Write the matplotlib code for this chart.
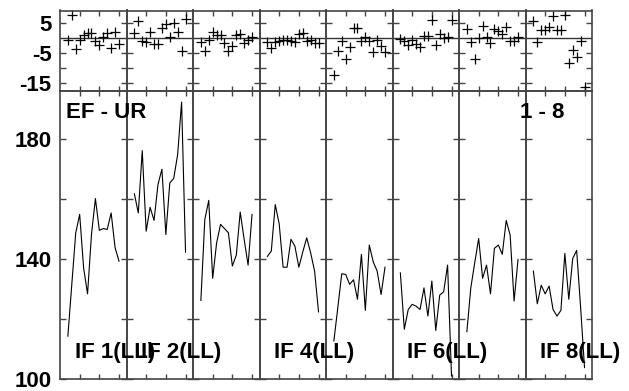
import matplotlib.pyplot as plt
from matplotlib.gridspec import GridSpec

# channels 2..15 in every IF
chans = [2, 3, 4, 5, 6, 7, 8, 9, 10, 11, 12, 13, 14, 15]

amp_if1 = [114.3, 131.6, 148.8, 154.9, 137.1, 128.4, 148.2, 160.2, 149.6, 150.2, 149.9, 155.4, 143.8, 139.3]
amp_if2 = [161.8, 155.4, 176.2, 149.3, 157.3, 152.9, 164.9, 170.0, 148.2, 165.4, 166.9, 174.9, 192.4, 142.3]
amp_if3 = [126.2, 153.2, 159.6, 133.6, 145.4, 151.6, 150.2, 148.8, 137.7, 141.3, 155.7, 146.6, 138.0, 154.9]
amp_if4 = [140.9, 142.7, 158.2, 151.8, 137.3, 137.3, 146.6, 144.3, 137.3, 142.4, 147.1, 142.1, 136.0, 122.4]
amp_if5 = [112.7, 123.8, 135.1, 134.9, 131.6, 133.1, 126.6, 141.6, 122.9, 144.7, 139.1, 136.0, 128.2, 137.3]
amp_if6 = [135.4, 116.6, 123.2, 124.9, 124.3, 123.2, 130.4, 121.0, 132.7, 116.2, 128.0, 129.1, 138.0, 101.0]
amp_if7 = [115.8, 130.4, 138.8, 146.9, 133.6, 138.0, 128.4, 143.6, 144.7, 141.6, 152.9, 148.0, 126.0, 139.9]
amp_if8 = [136.0, 125.1, 131.3, 128.4, 131.0, 123.2, 121.0, 122.9, 141.9, 126.6, 140.2, 142.9, 124.0, 103.8]

res_if1 = [-0.8, 7.6, -3.6, -0.8, 0.9, 1.7, 1.7, -1.1, -2.4, 0.2, 1.7, -3.3, 1.9, -1.9]
res_if2 = [1.7, 5.6, -1.1, -1.4, 1.9, -2.0, -2.0, 3.3, 4.7, 0.2, 5.0, 2.0, -4.4, 6.3]
res_if3 = [-1.4, -4.2, -0.8, 2.0, 1.1, 0.9, -1.7, -4.4, -2.8, 1.1, 1.3, -1.7, -0.7, 0.2]
res_if4 = [-1.4, -3.3, -1.4, -0.9, -0.6, -0.6, -1.1, -1.4, 1.3, 1.8, -1.1, -0.6, -1.7, -1.7]
res_if5 = [-12.2, -4.2, -1.1, -6.9, -2.9, 3.3, 3.3, -1.1, 0.2, -0.9, -4.7, -0.6, -2.8, -4.7]
res_if6 = [-0.2, -1.1, -2.2, -0.6, -2.0, -3.1, 0.6, 0.6, 5.9, -2.2, 1.3, 0.0, 0.2, 6.1]
res_if7 = [3.0, -1.4, -7.0, 0.0, 3.9, 0.2, -1.7, 3.1, 2.2, 1.3, 3.6, -1.1, -1.1, 0.2]
res_if8 = [5.8, -1.4, 2.6, 2.6, 3.7, 7.2, 2.6, 2.6, 7.8, -8.3, -4.1, -6.4, -1.1, -16.3]

if_labels = ['IF 1(LL)', 'IF 2(LL)', '', 'IF 4(LL)', '', 'IF 6(LL)', '', 'IF 8(LL)']

amps = [amp_if1, amp_if2, amp_if3, amp_if4, amp_if5, amp_if6, amp_if7, amp_if8]
resids = [res_if1, res_if2, res_if3, res_if4, res_if5, res_if6, res_if7, res_if8]

plt.rcParams['font.family'] = ['Liberation Sans', 'DejaVu Sans']
plt.rcParams['font.weight'] = 'bold'
plt.rcParams['font.size'] = 16

fig = plt.figure(figsize=(6.29, 3.91), dpi=100)
gs = GridSpec(2, 8, figure=fig, height_ratios=[81, 288.5],
              left=60 / 629, right=592 / 629, top=1 - 10.5 / 391, bottom=1 - 379 / 391,
              wspace=0, hspace=0)

frame_col = '#444444'

for i in range(8):
    ax_r = fig.add_subplot(gs[0, i])
    ax_a = fig.add_subplot(gs[1, i])

    ax_r.axhline(0, color='#333333', lw=1)
    ax_r.plot(chans, resids[i], '+', color='black', ms=7, mew=0.9, clip_on=False)
    ax_a.plot(chans, amps[i], color='black', lw=0.8, clip_on=False)

    ax_r.set_ylim(-17.8, 9.2)
    ax_r.set_yticks([5, -5, -10, -15])
    ax_r.set_yticklabels(['5', '-5', '', '-15'])
    ax_a.set_ylim(100, 196)
    ax_a.set_yticks([100, 120, 140, 160, 180])
    ax_a.set_yticklabels(['100', '', '140', '', '180'])

    for ax in (ax_r, ax_a):
        ax.patch.set_visible(False)
        ax.set_xlim(0, 16.9)
        ax.set_xticks([5, 10, 15])
        ax.tick_params(axis='x', direction='in', top=True, bottom=True, length=3.5,
                       width=1, color=frame_col, labelbottom=False)
        ax.tick_params(axis='y', direction='in', left=True, right=True, length=4,
                       width=1, color=frame_col, pad=6, labelleft=(i == 0))
        for sp in ax.spines.values():
            sp.set_color(frame_col)
            sp.set_linewidth(1.2)

    # labels go on the figure so neighbouring columns do not hide them
    if if_labels[i]:
        fig.text(3.8, 107, if_labels[i], transform=ax_a.transData, ha='left',
                 va='baseline', fontsize=16, fontweight='bold', zorder=5)
    if i == 0:
        fig.text(1.6, 187, 'EF - UR', transform=ax_a.transData, ha='left',
                 va='baseline', fontsize=16, fontweight='bold', zorder=5)
    if i == 7:
        fig.text(-1.5, 187, '1 - 8', transform=ax_a.transData, ha='left',
                 va='baseline', fontsize=16, fontweight='bold', zorder=5)

fig.savefig('out.png', dpi=100)
